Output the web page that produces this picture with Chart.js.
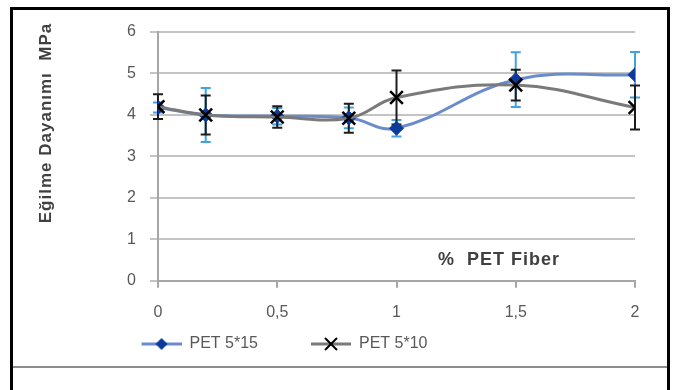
<!DOCTYPE html>
<html>
<head>
<meta charset="utf-8">
<script src="https://cdn.jsdelivr.net/npm/chart.js@4.4.1/dist/chart.umd.min.js"></script>
<style>
body { margin: 0; background: #fff; width: 673px; height: 390px; overflow: hidden; position: relative; }
#frame { position: absolute; left: 10px; top: 7px; width: 654px; height: 400px; border: 3px solid #000; }
#sep { position: absolute; left: 13px; top: 366px; width: 654px; height: 2px; background: #8c8c8c; }
#wrap { position: absolute; left: 0; top: 0; width: 673px; height: 390px; }
</style>
</head>
<body>
<div id="frame"></div>
<div id="sep"></div>
<div id="wrap"><canvas id="fiber-chart" width="673" height="390"></canvas></div>
<script>
// % PET fiber content
const xValues = [0, 0.2, 0.5, 0.8, 1, 1.5, 2];
const xTickValues = [0, 0.5, 1, 1.5, 2];
const xTickLabels = ['0', '0,5', '1', '1,5', '2'];
const yTickValues = [0, 1, 2, 3, 4, 5, 6];

const seriesNames = ['PET 5*15', 'PET 5*10'];
const pet515 = [4.18, 4.0, 3.97, 3.93, 3.68, 4.85, 4.97];
const pet515Err = [0.12, 0.65, 0.2, 0.25, 0.2, 0.66, 0.55];
const pet510 = [4.2, 4.0, 3.95, 3.92, 4.42, 4.72, 4.18];
const pet510Err = [0.3, 0.47, 0.26, 0.35, 0.65, 0.37, 0.53];

const yTitle = 'Eğilme Dayanımı  MPa';
const xTitle = '%  PET Fiber';

const ICON_W = 83; // legend box width, visible sample sits in the right 40px

function toPoints(vals) {
    return vals.map((v, i) => ({x: xValues[i], y: v}));
}

function legendIcon(lineColor, style, markColor) {
    const c = document.createElement('canvas');
    c.width = ICON_W; c.height = 18;
    const g = c.getContext('2d');
    const x0 = ICON_W - 40, cx = x0 + 20;
    g.strokeStyle = lineColor; g.lineWidth = 3;
    g.beginPath(); g.moveTo(x0, 9); g.lineTo(ICON_W, 9); g.stroke();
    if (style === 'diamond') {
        g.fillStyle = markColor;
        g.beginPath(); g.moveTo(cx, 3); g.lineTo(cx + 6, 9); g.lineTo(cx, 15); g.lineTo(cx - 6, 9); g.closePath(); g.fill();
    } else {
        g.strokeStyle = markColor; g.lineWidth = 2;
        g.beginPath(); g.moveTo(cx - 6, 3); g.lineTo(cx + 6, 15); g.moveTo(cx + 6, 3); g.lineTo(cx - 6, 15); g.stroke();
    }
    return c;
}

const errorBars = {
    id: 'errorBars',
    beforeDatasetsDraw(chart) {
        const ctx = chart.ctx;
        const x = chart.scales.x, y = chart.scales.y;
        const sets = [[pet515, pet515Err, '#3fa2e2'], [pet510, pet510Err, '#1c1c1c']];
        sets.forEach(([vals, errs, col]) => {
            ctx.save();
            ctx.strokeStyle = col;
            ctx.lineWidth = 2;
            vals.forEach((v, i) => {
                const px = x.getPixelForValue(xValues[i]);
                const top = y.getPixelForValue(v + errs[i]);
                const bot = y.getPixelForValue(v - errs[i]);
                ctx.beginPath();
                ctx.moveTo(px, top); ctx.lineTo(px, bot);
                ctx.moveTo(px - 5, top); ctx.lineTo(px + 5, top);
                ctx.moveTo(px - 5, bot); ctx.lineTo(px + 5, bot);
                ctx.stroke();
            });
            ctx.restore();
        });
    }
};

const titles = {
    id: 'titles',
    afterDraw(chart) {
        const ctx = chart.ctx;
        const x = chart.scales.x, y = chart.scales.y;
        ctx.save();
        ctx.fillStyle = '#404040';
        ctx.letterSpacing = '1px';
        ctx.font = 'bold 18px "Liberation Sans"';
        ctx.textAlign = 'center';
        ctx.textBaseline = 'middle';
        ctx.fillText(xTitle, x.getPixelForValue(1.43), y.getPixelForValue(0.49));
        ctx.translate(46, 123);
        ctx.rotate(-Math.PI / 2);
        ctx.font = 'bold 17px "Liberation Sans"';
        ctx.fillText(yTitle, 0, 0);
        ctx.restore();
    }
};

new Chart(document.getElementById('fiber-chart'), {
    type: 'line',
    data: {
        datasets: [{
            label: seriesNames[0],
            data: toPoints(pet515),
            borderColor: '#6b8ccc',
            borderWidth: 3,
            tension: 0.4,
            pointStyle: 'rectRot',
            pointRadius: 7,
            pointBackgroundColor: '#0b3a9c',
            pointBorderColor: '#0b3a9c',
            pointBorderWidth: 1,
            order: 1
        }, {
            label: seriesNames[1],
            data: toPoints(pet510),
            borderColor: '#7a7a7a',
            borderWidth: 3,
            tension: 0.4,
            pointStyle: 'crossRot',
            pointRadius: 9,
            pointBorderColor: '#000',
            pointBorderWidth: 2.5,
            order: 0
        }]
    },
    options: {
        responsive: false,
        animation: false,
        layout: {
            padding: {left: -109, right: 38, top: 32, bottom: 28}
        },
        plugins: {
            tooltip: {enabled: false},
            legend: {
                position: 'bottom',
                labels: {
                    usePointStyle: true,
                    pointStyleWidth: ICON_W,
                    padding: 10,
                    color: '#595959',
                    font: {size: 16, family: 'Liberation Sans'},
                    generateLabels: function () {
                        return [
                            {text: seriesNames[0], pointStyle: legendIcon('#6b8ccc', 'diamond', '#0b3a9c'), fontColor: '#595959', datasetIndex: 0, lineWidth: 0, strokeStyle: 'transparent', fillStyle: 'transparent'},
                            {text: seriesNames[1], pointStyle: legendIcon('#7a7a7a', 'cross', '#000'), fontColor: '#595959', datasetIndex: 1, lineWidth: 0, strokeStyle: 'transparent', fillStyle: 'transparent'}
                        ];
                    }
                }
            }
        },
        scales: {
            x: {
                type: 'linear',
                min: 0,
                max: 2,
                afterBuildTicks: function (scale) {
                    scale.ticks = xTickValues.map(v => ({value: v}));
                },
                afterFit: function (scale) {
                    scale.height = scale.height - 11;
                },
                ticks: {
                    color: '#595959',
                    font: {size: 16, family: 'Liberation Sans'},
                    padding: 15,
                    callback: function (v) {
                        return xTickLabels[xTickValues.indexOf(v)];
                    }
                },
                grid: {
                    drawOnChartArea: false,
                    drawTicks: true,
                    tickLength: 7,
                    color: '#a6a6a6',
                    lineWidth: 2
                },
                border: {color: '#a6a6a6', width: 2}
            },
            y: {
                min: 0,
                max: 6,
                afterBuildTicks: function (scale) {
                    scale.ticks = yTickValues.map(v => ({value: v}));
                },
                afterFit: function (scale) {
                    scale.width = 267;
                },
                ticks: {
                    color: '#595959',
                    font: {size: 16, family: 'Liberation Sans'},
                    padding: 14
                },
                grid: {
                    color: '#c4c4c4',
                    lineWidth: 2,
                    tickLength: 8
                },
                border: {color: '#a6a6a6', width: 2}
            }
        }
    },
    plugins: [errorBars, titles]
});
</script>
</body>
</html>
